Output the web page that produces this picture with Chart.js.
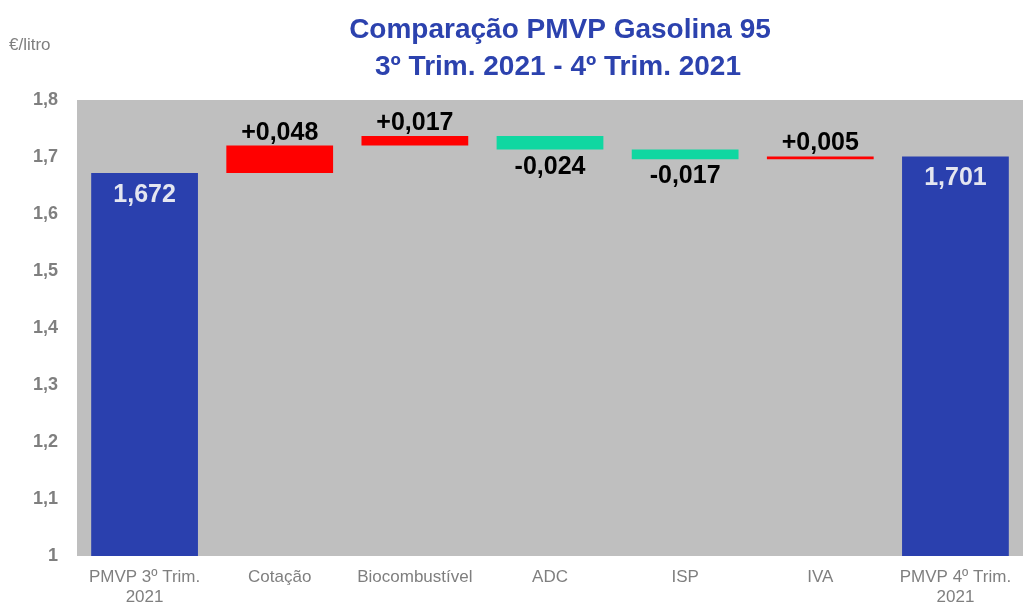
<!DOCTYPE html>
<html>
<head>
<meta charset="utf-8">
<script src="https://cdn.jsdelivr.net/npm/chart.js@4/dist/chart.umd.min.js"></script>
<style>
  html, body { margin: 0; padding: 0; background: #fff; }
  #wrap { width: 1023px; height: 608px; }
</style>
</head>
<body>
<div id="wrap"><canvas id="waterfallChart" width="1023" height="608"></canvas></div>
<script>
// Categorias e valores (PMVP Gasolina 95, €/litro)
const categories = [['PMVP 3º Trim.', '2021'], 'Cotação', 'Biocombustível', 'ADC', 'ISP', 'IVA', ['PMVP 4º Trim.', '2021']];
const startValue = 1.672;
const changes = [0.048, 0.017, -0.024, -0.017, 0.005];
const endValue = 1.701;
const yTicks = [1, 1.1, 1.2, 1.3, 1.4, 1.5, 1.6, 1.7, 1.8];

const titleLines = ['Comparação PMVP Gasolina 95', '3º Trim. 2021 - 4º Trim. 2021'];
const unitLabel = '€/litro';

const colors = {
    total: '#2A40AE',
    up: '#FF0000',
    down: '#10D7A1',
    plotBg: '#BFBFBF',
    axisText: '#7F7F7F',
    title: '#2C42AE'
};

const fmt = (v, sign) => {
    const s = Math.abs(v).toFixed(3).replace('.', ',');
    if (!sign) return s;
    return (v >= 0 ? '+' : '-') + s;
};

// monta as barras flutuantes do waterfall
function buildWaterfall() {
    const bars = [[1, startValue]];
    const kinds = ['total'];
    const values = [startValue];
    let level = startValue;
    changes.forEach(c => {
        const next = +(level + c).toFixed(3);
        bars.push([level, next]);
        kinds.push(c >= 0 ? 'up' : 'down');
        values.push(c);
        level = next;
    });
    bars.push([1, endValue]);
    kinds.push('total');
    values.push(endValue);
    return { bars, kinds, values };
}

const wf = buildWaterfall();

// fundo cinzento da área do gráfico + título + unidade
const decorPlugin = {
    id: 'decor',
    beforeDraw(chart) {
        const { ctx, chartArea } = chart;
        ctx.save();
        ctx.fillStyle = colors.plotBg;
        ctx.fillRect(chartArea.left, chartArea.top, chartArea.right - chartArea.left, chartArea.bottom - chartArea.top);
        ctx.fillStyle = colors.title;
        ctx.font = 'bold 28px "Liberation Sans", Arial, sans-serif';
        ctx.textAlign = 'center';
        ctx.textBaseline = 'alphabetic';
        ctx.fillText(titleLines[0], 560, 38);
        ctx.fillText(titleLines[1], 558, 75);
        ctx.fillStyle = colors.axisText;
        ctx.font = '17px "Liberation Sans", Arial, sans-serif';
        ctx.textAlign = 'left';
        ctx.fillText(unitLabel, 9, 50);
        ctx.restore();
    }
};

// rótulos dos valores
const labelPlugin = {
    id: 'valueLabels',
    afterDatasetsDraw(chart) {
        const { ctx } = chart;
        const meta = chart.getDatasetMeta(0);
        ctx.save();
        ctx.textAlign = 'center';
        ctx.textBaseline = 'alphabetic';
        ctx.font = 'bold 25px "Liberation Sans", Arial, sans-serif';
        meta.data.forEach((el, i) => {
            const top = Math.min(el.y, el.base);
            const bottom = Math.max(el.y, el.base);
            const kind = wf.kinds[i];
            const v = wf.values[i];
            if (kind === 'total') {
                ctx.fillStyle = '#E4E6F0';
                ctx.fillText(fmt(v, false), el.x, top + 29);
            } else if (kind === 'up') {
                ctx.fillStyle = '#000';
                ctx.fillText(fmt(v, true), el.x, top - 6);
            } else {
                ctx.fillStyle = '#000';
                ctx.fillText(fmt(v, true), el.x, bottom + 24);
            }
        });
        ctx.restore();
    }
};

document.addEventListener('DOMContentLoaded', function () {
    const ctx = document.getElementById('waterfallChart');
    new Chart(ctx, {
        type: 'bar',
        data: {
            labels: categories,
            datasets: [{
                data: wf.bars,
                backgroundColor: wf.kinds.map(k => colors[k]),
                borderWidth: 0,
                borderSkipped: false,
                barPercentage: 0.79,
                categoryPercentage: 1
            }]
        },
        plugins: [decorPlugin, labelPlugin],
        options: {
            responsive: false,
            animation: false,
            layout: { padding: { top: 100, right: -4, left: 0, bottom: 0 } },
            plugins: {
                legend: { display: false },
                title: { display: false },
                tooltip: { enabled: false }
            },
            scales: {
                x: {
                    grid: { display: false, drawTicks: false },
                    border: { display: false },
                    ticks: {
                        color: colors.axisText,
                        font: { family: '"Liberation Sans", Arial, sans-serif', size: 17 },
                        padding: 11,
                        maxRotation: 0,
                        autoSkip: false
                    },
                    afterFit(axis) { axis.height = 52; }
                },
                y: {
                    min: 1,
                    max: 1.8,
                    afterBuildTicks(axis) { axis.ticks = yTicks.map(v => ({ value: v })); },
                    grid: { display: false, drawTicks: false },
                    border: { display: false },
                    ticks: {
                        color: colors.axisText,
                        font: { family: '"Liberation Sans", Arial, sans-serif', size: 18, weight: 'bold' },
                        padding: 19,
                        callback: v => (v === 1 ? '1' : v.toFixed(1).replace('.', ','))
                    },
                    afterFit(axis) { axis.width = 77; }
                }
            }
        }
    });
});
</script>
</body>
</html>
